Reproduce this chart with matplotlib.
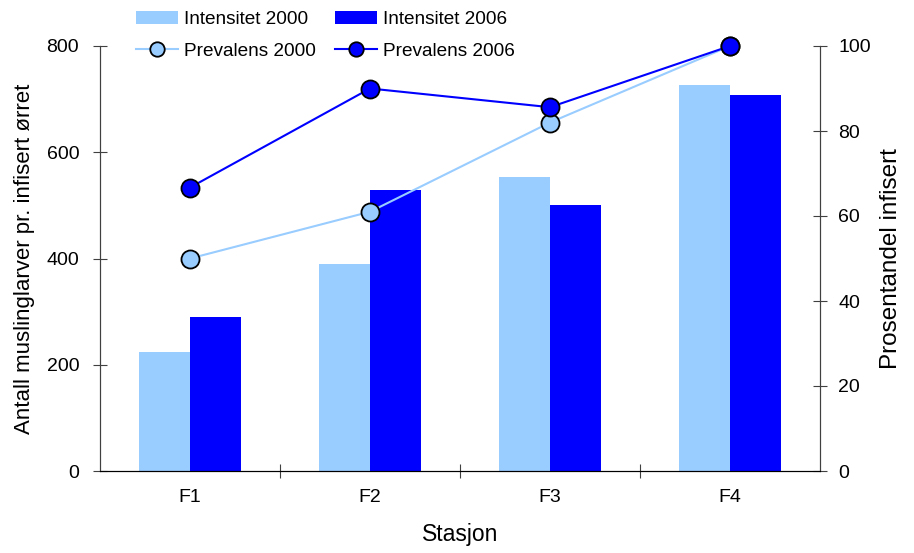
import matplotlib
matplotlib.use("Agg")
import matplotlib.pyplot as plt
import numpy as np

plt.rcParams["font.family"] = ["Liberation Sans", "DejaVu Sans"]

stasjoner = ["F1", "F2", "F3", "F4"]
intensitet_2000 = [224, 390, 553, 727]
intensitet_2006 = [290, 529, 501, 708]
prevalens_2000 = [50, 61, 82, 100]
prevalens_2006 = [66.7, 90, 85.6, 100]

LIGHT = "#99CCFF"
DARK = "#0000FF"
SPINE = "#404040"

fig = plt.figure(figsize=(9.14, 5.53), dpi=100)
ax = fig.add_axes([100 / 914, 1 - 471 / 553, 720 / 914, 425 / 553])
ax2 = ax.twinx()

x = np.arange(len(stasjoner))
w = 0.285
b1 = ax.bar(x - w / 2, intensitet_2000, w, color=LIGHT, label="Intensitet 2000")
b2 = ax.bar(x + w / 2, intensitet_2006, w, color=DARK, label="Intensitet 2006")

l1, = ax2.plot(x, prevalens_2000, color=LIGHT, lw=1.5, marker="o", ms=13,
               mfc=LIGHT, mec="black", mew=1.3, label="Prevalens 2000",
               clip_on=False)
l2, = ax2.plot(x, prevalens_2006, color=DARK, lw=1.5, marker="o", ms=13,
               mfc=DARK, mec="black", mew=1.3, label="Prevalens 2006",
               clip_on=False)

ax.set_xlim(-0.5, 3.5)
ax.set_ylim(0, 800)
ax2.set_ylim(0, 100)
ax.set_yticks([0, 200, 400, 600, 800])
ax2.set_yticks([0, 20, 40, 60, 80, 100])

# kategorietiketter midt i, tick-streker mellom kategoriene
ax.set_xticks([0.5, 1.5, 2.5], minor=False)
ax.set_xticklabels([])
ax.set_xticks(x, minor=True)
ax.set_xticklabels(stasjoner, minor=True)
ax.tick_params(axis="x", which="minor", length=0, labelsize=14, pad=13)
ax.tick_params(axis="x", which="major", direction="inout", length=10, color=SPINE)
ax.tick_params(axis="y", direction="inout", length=10, labelsize=14, color=SPINE, pad=10)
ax2.tick_params(axis="y", direction="inout", length=10, labelsize=14, color=SPINE, pad=8)

for a in (ax, ax2):
    a.spines["top"].set_visible(False)
    a.spines["left"].set_color(SPINE)
    a.spines["right"].set_color(SPINE)
    a.spines["bottom"].set_color("black")
ax.patch.set_visible(False)

ax.set_xlabel("Stasjon", fontsize=16.5, labelpad=12)
ax.set_ylabel("Antall muslinglarver pr. infisert ørret", fontsize=16, labelpad=8)
ax2.set_ylabel("Prosentandel infisert", fontsize=17.5, labelpad=7)

fig.legend([b1, l1, b2, l2],
           ["Intensitet 2000", "Prevalens 2000", "Intensitet 2006", "Prevalens 2006"],
           ncol=2, loc="upper left", bbox_to_anchor=(119 / 914, 1.011),
           frameon=False, fontsize=13.7, handlelength=2.2, handletextpad=0.3,
           columnspacing=1.03, labelspacing=0.75, markerscale=0.8)

fig.savefig("out.png", dpi=100)
